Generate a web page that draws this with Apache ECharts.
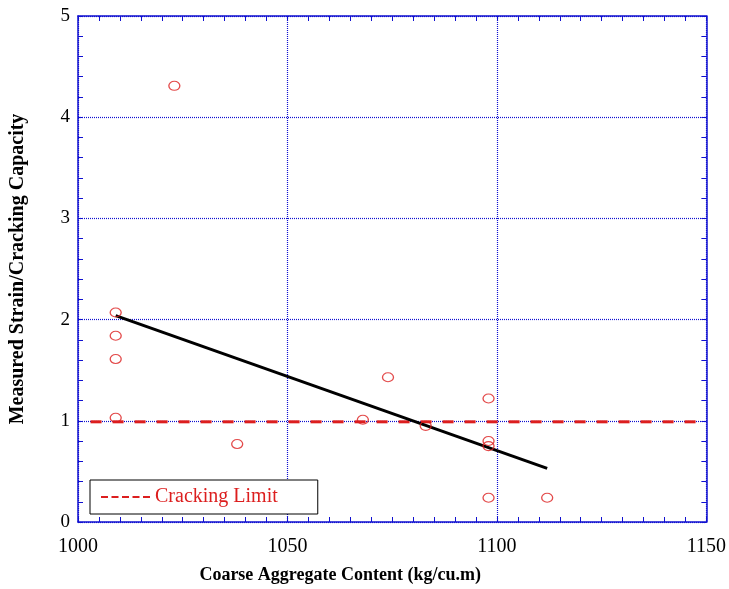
<!DOCTYPE html>
<html>
<head>
<meta charset="utf-8">
<script src="https://cdn.jsdelivr.net/npm/echarts@6/dist/echarts.min.js"></script>
<style>
  html, body { margin: 0; padding: 0; background: #fff; width: 100%; height: 100%; overflow: hidden; }
  #chart { width: 100vw; height: 100vh; }
</style>
</head>
<body>
<div id="chart"></div>
<script>
// Measured strain / cracking capacity against coarse aggregate content
const aggregateContent = [1009, 1009, 1009, 1009, 1023, 1038, 1068, 1074, 1083, 1098, 1098, 1098, 1098, 1112];
const strainRatio      = [2.07, 1.84, 1.61, 1.03, 4.31, 0.77, 1.01, 1.43, 0.95, 1.22, 0.80, 0.75, 0.24, 0.24];

// Fitted trend line end points
const trendX = [1009, 1112];
const trendY = [2.04, 0.53];

// Cracking limit reference line
const limitX = [1003, 1150];
const limitY = [0.99, 0.99];

const xTicks = [1000, 1050, 1100, 1150];
const yTicks = [0, 1, 2, 3, 4, 5];

const FONT = '"Liberation Serif", "Times New Roman", serif';
const BLUE = '#1010d0';
const RED = '#dc1e1e';

const zip = (a, b) => a.map((v, i) => [v, b[i]]);

const frameAxis = {
  axisLine: { show: true, onZero: false, lineStyle: { color: BLUE, width: 1.5 } },
  axisTick: { show: true, inside: true, length: 5, lineStyle: { color: BLUE } },
  axisLabel: { show: false },
  splitLine: { show: false }
};

const xBase = {
  type: 'value', min: xTicks[0], max: xTicks[xTicks.length - 1], interval: 50
};
const yBase = {
  type: 'value', min: yTicks[0], max: yTicks[yTicks.length - 1], interval: 1
};

// dashed stroke used as the legend swatch
const dashIcon = 'path://M0,0h7v2h-7z M10.5,0h7v2h-7z M21,0h7v2h-7z M31.5,0h7v2h-7z M42,0h7v2h-7z';

const chart = echarts.init(document.getElementById('chart'), null, { renderer: 'canvas' });
chart.setOption({
  animation: false,
  backgroundColor: '#fff',
  grid: { left: 76, right: 9, top: 16, bottom: 61 },
  xAxis: [
    Object.assign({}, xBase, frameAxis, {
      position: 'bottom',
      minorTick: { show: true, splitNumber: 10, length: 5, lineStyle: { color: BLUE } },
      axisLabel: { show: true, color: '#000', fontFamily: FONT, fontSize: 20, margin: 15,
                   formatter: v => String(v) },
      splitLine: { show: true, lineStyle: { color: BLUE, type: [1, 1], width: 1.2 } },
      name: 'Coarse Aggregate Content (kg/cu.m)',
      nameLocation: 'middle',
      nameGap: 44,
      nameTextStyle: { color: '#000', fontFamily: FONT, fontSize: 18, fontWeight: 'bold',
                       padding: [0, 104, 0, 0] }
    }),
    Object.assign({}, xBase, frameAxis, {
      position: 'top',
      minorTick: { show: true, splitNumber: 10, length: 5, lineStyle: { color: BLUE } }
    })
  ],
  yAxis: [
    Object.assign({}, yBase, frameAxis, {
      position: 'left',
      minorTick: { show: true, splitNumber: 5, length: 5, lineStyle: { color: BLUE } },
      axisLabel: { show: true, color: '#000', fontFamily: FONT, fontSize: 19, margin: 8,
                   formatter: v => String(v) },
      splitLine: { show: true, lineStyle: { color: BLUE, type: [1, 1], width: 1.2 } },
      name: 'Measured Strain/Cracking Capacity',
      nameLocation: 'middle',
      nameGap: 50,
      nameTextStyle: { color: '#000', fontFamily: FONT, fontSize: 20, fontWeight: 'bold' }
    }),
    Object.assign({}, yBase, frameAxis, {
      position: 'right',
      minorTick: { show: true, splitNumber: 5, length: 5, lineStyle: { color: BLUE } }
    })
  ],
  legend: {
    data: [{ name: 'Cracking Limit', icon: dashIcon, itemStyle: { color: RED } }],
    left: 90,
    top: 480,
    orient: 'horizontal',
    backgroundColor: '#fff',
    borderColor: '#000',
    borderWidth: 1,
    borderRadius: 0,
    padding: [7, 40, 7, 11],
    itemWidth: 49,
    itemHeight: 2,
    itemGap: 6,
    textStyle: { color: RED, fontFamily: FONT, fontSize: 20 }
  },
  series: [
    {
      name: 'Cracking Limit',
      type: 'line',
      data: zip(limitX, limitY),
      symbol: 'none',
      lineStyle: { color: RED, width: 3, type: [11, 11] },
      itemStyle: { color: RED },
      z: 3
    },
    {
      name: 'Trend',
      type: 'line',
      data: zip(trendX, trendY),
      symbol: 'none',
      lineStyle: { color: '#000', width: 3 },
      z: 4
    },
    {
      name: 'Measured',
      type: 'scatter',
      data: zip(aggregateContent, strainRatio),
      symbol: 'path://M0 10A10 10 0 1 1 20 10A10 10 0 1 1 0 10Z',
      symbolSize: [11, 9],
      itemStyle: { color: 'transparent', borderColor: RED, borderWidth: 1.2 },
      z: 5
    }
  ]
});
</script>
</body>
</html>
